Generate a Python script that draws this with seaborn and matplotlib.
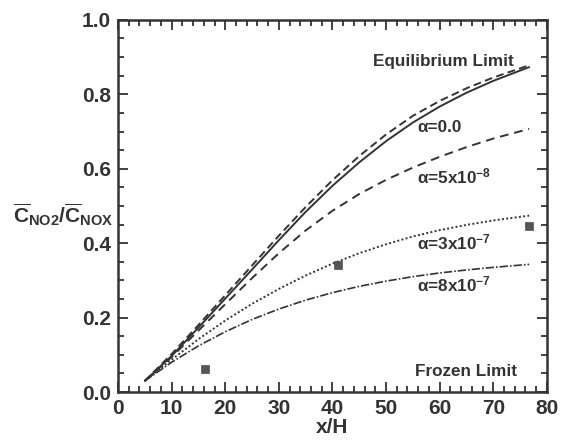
import numpy as np
import pandas as pd
import matplotlib
matplotlib.use("Agg")
import matplotlib.pyplot as plt
import seaborn as sns

# x/H positions where the curves were read
x_h = [5, 10, 15, 20, 25, 30, 35, 40, 45, 50, 55, 60, 65, 70, 76.7]

equilibrium = [0.03, 0.102, 0.18, 0.26, 0.34, 0.42, 0.497, 0.569, 0.634, 0.692, 0.742, 0.782, 0.816, 0.845, 0.878]
alpha_0 = [0.03, 0.097, 0.173, 0.251, 0.329, 0.408, 0.484, 0.554, 0.617, 0.674, 0.724, 0.767, 0.804, 0.836, 0.873]
alpha_5e8 = [0.03, 0.094, 0.165, 0.236, 0.306, 0.373, 0.434, 0.487, 0.532, 0.57, 0.603, 0.632, 0.658, 0.681, 0.707]
alpha_3e7 = [0.03, 0.087, 0.142, 0.192, 0.237, 0.277, 0.313, 0.345, 0.373, 0.397, 0.418, 0.435, 0.449, 0.461, 0.474]
alpha_8e7 = [0.03, 0.08, 0.124, 0.162, 0.195, 0.223, 0.247, 0.267, 0.284, 0.298, 0.31, 0.32, 0.328, 0.335, 0.343]

# measured points
meas_x = [16.3, 41.0, 76.7]
meas_y = [0.063, 0.34, 0.447]

sns.set_style("ticks")
plt.rcParams['font.family'] = ['Liberation Sans', 'DejaVu Sans']
plt.rcParams['font.weight'] = 'bold'
plt.rcParams['mathtext.fontset'] = 'custom'
plt.rcParams['mathtext.rm'] = 'Liberation Sans:bold'
plt.rcParams['mathtext.it'] = 'Liberation Sans:bold'
plt.rcParams['mathtext.bf'] = 'Liberation Sans:bold'

ink = '#333333'

fig = plt.figure(figsize=(5.62, 4.41), dpi=100)
ax = fig.add_axes([0.21, 0.111, 0.763, 0.844])

df = pd.DataFrame({'x': x_h, 'eq': equilibrium, 'a0': alpha_0,
                   'a5e8': alpha_5e8, 'a3e7': alpha_3e7, 'a8e7': alpha_8e7})

sns.lineplot(data=df, x='x', y='eq', ax=ax, color=ink, lw=1.4,
             linestyle=(0, (4, 2.2)))
sns.lineplot(data=df, x='x', y='a0', ax=ax, color=ink, lw=1.4)
sns.lineplot(data=df, x='x', y='a5e8', ax=ax, color=ink, lw=1.4,
             linestyle=(0, (4.5, 3)))
sns.lineplot(data=df, x='x', y='a3e7', ax=ax, color=ink, lw=1.4,
             linestyle=(0, (1, 1.2)))
sns.lineplot(data=df, x='x', y='a8e7', ax=ax, color=ink, lw=1.2,
             linestyle=(0, (5, 1.2, 1, 1.2)))
sns.scatterplot(x=meas_x, y=meas_y, ax=ax, marker='s', s=30, color='#555555',
                edgecolor='#444444', zorder=5)

ax.set_xlim(0, 80)
ax.set_ylim(0, 1.0)
ax.set_xticks(np.arange(0, 81, 10))
ax.set_xticks(np.arange(0, 81, 2), minor=True)
ax.set_yticks(np.arange(0, 1.01, 0.2))
ax.set_yticks(np.arange(0, 1.01, 0.05), minor=True)
ax.set_yticklabels(['%.1f' % v for v in np.arange(0, 1.01, 0.2)])
ax.tick_params(which='both', direction='in', top=True, right=True,
               colors=ink, width=1.3)
ax.tick_params(which='major', length=7, labelsize=15)
ax.tick_params(axis='x', which='major', pad=5)
ax.tick_params(axis='y', which='major', pad=5)
ax.tick_params(which='minor', length=4)
for lab in ax.get_xticklabels() + ax.get_yticklabels():
    lab.set_fontweight('bold')
    lab.set_color(ink)
for sp in ax.spines.values():
    sp.set_linewidth(1.8)
    sp.set_color(ink)

ax.set_xlabel('x/H', fontsize=15, fontweight='bold', color=ink, labelpad=0)
ax.set_ylabel('')
fig.text(0.023, 0.512, r'$\overline{C}_{NO2}/\overline{C}_{NOX}$', fontsize=15,
         color=ink, ha='left', va='center')

tkw = dict(fontsize=12.3, fontweight='bold', color=ink)
ax.text(47.5, 0.887, 'Equilibrium Limit', va='center', **tkw)
ax.text(55.8, 0.712, 'α=0.0', va='center', **tkw)
ax.text(55.8, 0.578, r'α=5x10$^{-8}$', va='center', **tkw)
ax.text(55.8, 0.403, r'α=3x10$^{-7}$', va='center', **tkw)
ax.text(55.8, 0.288, r'α=8x10$^{-7}$', va='center', **tkw)
ax.text(55.4, 0.054, 'Frozen Limit', va='center', **tkw)

fig.savefig('out.png', dpi=100, facecolor='white')
